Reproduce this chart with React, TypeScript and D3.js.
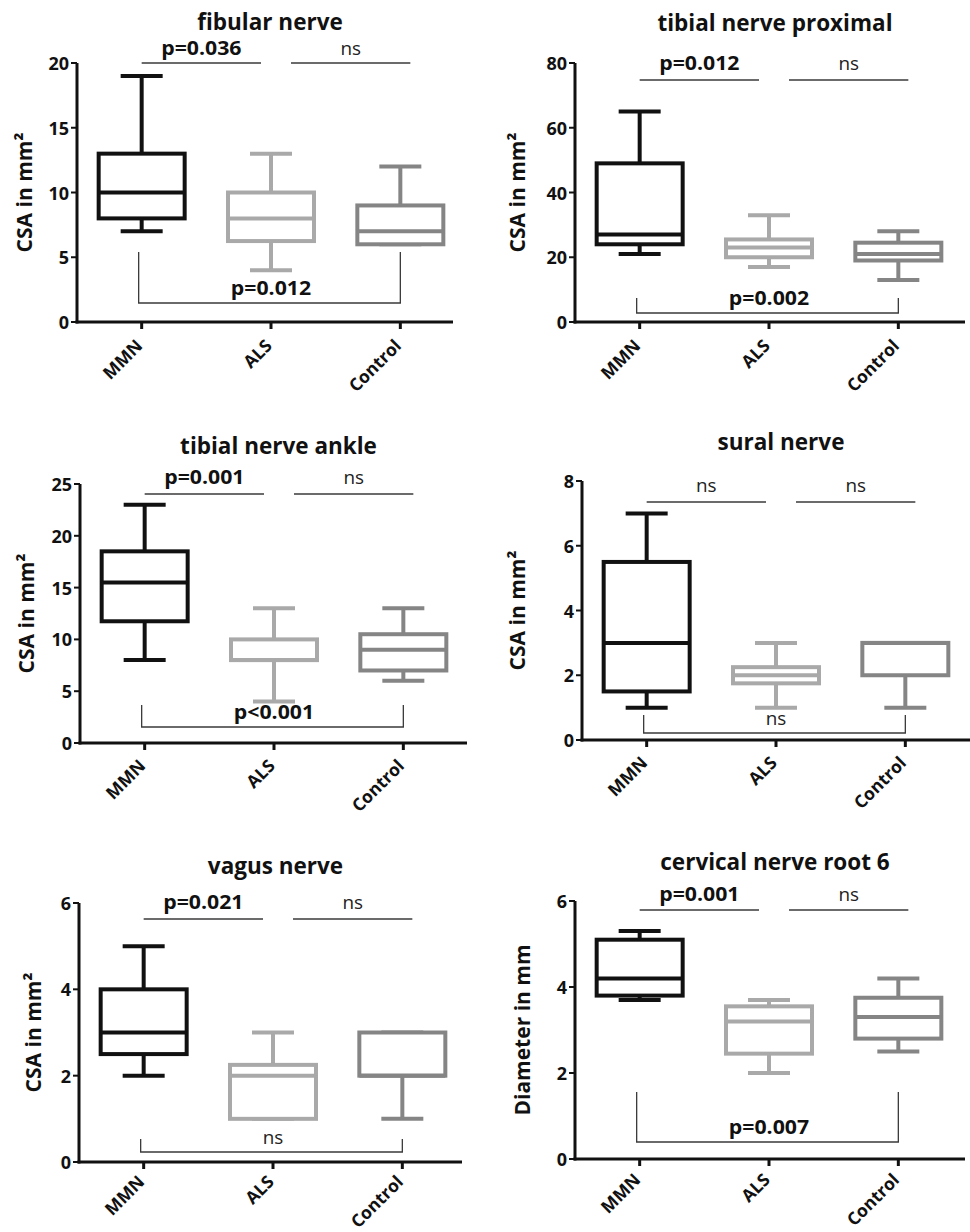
import React from "react";
import * as d3 from "d3";

const groups = ["MMN", "ALS", "Control"];
const groupColors = ["#111111", "#a9a9a9", "#858585"];

// five-number summaries: [min, q1, median, q3, max] per group
const fibular = [[7, 8, 10, 13, 19], [4, 6.25, 8, 10, 13], [6, 6, 7, 9, 12]];
const tibialProx = [[21, 24, 27, 49, 65], [17, 20, 23, 25.5, 33], [13, 19, 21, 24.5, 28]];
const tibialAnkle = [[8, 11.75, 15.5, 18.5, 23], [4, 8, 8, 10, 13], [6, 7, 9, 10.5, 13]];
const sural = [[1, 1.5, 3, 5.5, 7], [1, 1.75, 2, 2.25, 3], [1, 2, 3, 3, 3]];
const vagus = [[2, 2.5, 3, 4, 5], [1, 1, 2, 2.25, 3], [1, 2, 2, 3, 3]];
const cervical = [[3.7, 3.8, 4.2, 5.1, 5.3], [2, 2.45, 3.2, 3.55, 3.7], [2.5, 2.8, 3.3, 3.75, 4.2]];

const fibularTicks = [0, 5, 10, 15, 20];
const tibialProxTicks = [0, 20, 40, 60, 80];
const tibialAnkleTicks = [0, 5, 10, 15, 20, 25];
const suralTicks = [0, 2, 4, 6, 8];
const vagusTicks = [0, 2, 4, 6];
const cervicalTicks = [0, 2, 4, 6];

// p labels: [MMN vs ALS, ALS vs Control, MMN vs Control]
const fibularP = ["p=0.036", "ns", "p=0.012"];
const tibialProxP = ["p=0.012", "ns", "p=0.002"];
const tibialAnkleP = ["p=0.001", "ns", "p<0.001"];
const suralP = ["ns", "ns", "ns"];
const vagusP = ["p=0.021", "ns", "ns"];
const cervicalP = ["p=0.001", "ns", "p=0.007"];

const titles = ["fibular nerve", "tibial nerve proximal", "tibial nerve ankle", "sural nerve", "vagus nerve", "cervical nerve root 6"];
const yLabels = ["CSA in mm²", "CSA in mm²", "CSA in mm²", "CSA in mm²", "CSA in mm²", "Diameter in mm"];

const panels = [
  { title: titles[0], yLabel: yLabels[0], data: fibular, ticks: fibularTicks, p: fibularP,
    x0: 77, xEnd: 453, yTop: 63, yBot: 322, titleY: 30, labelX: 26, topLine: 63, pGap: 8, low: [252, 303], xlab: 25 },
  { title: titles[1], yLabel: yLabels[1], data: tibialProx, ticks: tibialProxTicks, p: tibialProxP,
    x0: 575, xEnd: 965, yTop: 63, yBot: 322, titleY: 31, labelX: 519, topLine: 80, pGap: 10, low: [298, 313], xlab: 25 },
  { title: titles[2], yLabel: yLabels[2], data: tibialAnkle, ticks: tibialAnkleTicks, p: tibialAnkleP,
    x0: 80, xEnd: 467, yTop: 484, yBot: 743, titleY: 454, labelX: 28, topLine: 494, pGap: 10, low: [705, 727], xlab: 24 },
  { title: titles[3], yLabel: yLabels[3], data: sural, ticks: suralTicks, p: suralP,
    x0: 582, xEnd: 970, yTop: 481, yBot: 740, titleY: 450, labelX: 519, topLine: 502, pGap: 10, low: [715, 733], xlab: 24 },
  { title: titles[4], yLabel: yLabels[4], data: vagus, ticks: vagusTicks, p: vagusP,
    x0: 79, xEnd: 462, yTop: 903, yBot: 1162, titleY: 874, labelX: 35, topLine: 919, pGap: 10, low: [1139, 1152], xlab: 21 },
  { title: titles[5], yLabel: yLabels[5], data: cervical, ticks: cervicalTicks, p: cervicalP,
    x0: 575, xEnd: 965, yTop: 901, yBot: 1159, titleY: 870, labelX: 524, topLine: 910, pGap: 9, low: [1092, 1142], xlab: 22 },
];

const font = "'Open Sans', 'DejaVu Sans', sans-serif";
const lineCol = "#3a3a3a";

function Panel({ cfg }: { cfg: any }) {
  const x = d3.scaleBand().domain(groups).range([cfg.x0, cfg.x0 + 388]);
  const cx = (g: string) => (x(g) as number) + x.bandwidth() / 2;
  const y = d3.scaleLinear().domain([0, d3.max(cfg.ticks) as number]).range([cfg.yBot, cfg.yTop]);
  const boxW = 86;
  const capW = 42;
  const xM = cx("MMN"), xA = cx("ALS"), xC = cx("Control");
  const midX = (xM + xC) / 2;
  const isNs = (s: string) => s === "ns";
  const pText = (s: string, px: number, py: number) => (
    <text transform={`translate(${px},${py}) scale(${isNs(s) ? 1.05 : 1.12},1)`} textAnchor="middle" fontSize={isNs(s) ? 18 : 19} fontWeight={isNs(s) ? "normal" : "bold"} fill={isNs(s) ? "#222" : "#111"}>{s}</text>
  );
  return (
    <g>
      <text x={(cfg.x0 + cfg.xEnd) / 2 + 5} y={cfg.titleY} textAnchor="middle" fontSize={22.5} fontWeight="bold" fill="#111">{cfg.title}</text>
      <text transform={`translate(${cfg.labelX},${(cfg.yTop + cfg.yBot) / 2}) rotate(-90)`} textAnchor="middle" dominantBaseline="middle" fontSize={21} fontWeight="bold" fill="#111">{cfg.yLabel}</text>
      {/* boxes */}
      {cfg.data.map((s: number[], i: number) => {
        const c = cx(groups[i]);
        const col = groupColors[i];
        return (
          <g key={i} stroke={col} strokeWidth={4} fill="none">
            <line x1={c} x2={c} y1={y(s[4])} y2={y(s[3])} />
            <line x1={c} x2={c} y1={y(s[1])} y2={y(s[0])} />
            <line x1={c - capW / 2} x2={c + capW / 2} y1={y(s[4])} y2={y(s[4])} />
            <line x1={c - capW / 2} x2={c + capW / 2} y1={y(s[0])} y2={y(s[0])} />
            <rect x={c - boxW / 2} y={y(s[3])} width={boxW} height={Math.max(0.01, y(s[1]) - y(s[3]))} fill="#fff" />
            <line x1={c - boxW / 2} x2={c + boxW / 2} y1={y(s[2])} y2={y(s[2])} />
          </g>
        );
      })}
      {/* significance brackets */}
      <g stroke={lineCol} strokeWidth={1.3} fill="none">
        <line x1={xM} x2={xA - 10} y1={cfg.topLine} y2={cfg.topLine} />
        <line x1={xA + 20} x2={xC + 10} y1={cfg.topLine} y2={cfg.topLine} />
        <polyline points={`${xM - 3},${cfg.low[0]} ${xM - 3},${cfg.low[1]} ${xC},${cfg.low[1]} ${xC},${cfg.low[0]}`} />
      </g>
      {pText(cfg.p[0], (xM + xA - 10) / 2, cfg.topLine - cfg.pGap)}
      {pText(cfg.p[1], (xA + 20 + xC + 10) / 2, cfg.topLine - cfg.pGap)}
      {pText(cfg.p[2], midX, cfg.low[1] - 8)}
      {/* axes */}
      <g stroke="#111" strokeWidth={3} fill="none">
        <line x1={cfg.x0} x2={cfg.x0} y1={cfg.yTop} y2={cfg.yBot + 1.5} />
        <line x1={cfg.x0 - 1.5} x2={cfg.xEnd} y1={cfg.yBot} y2={cfg.yBot} />
        {cfg.ticks.map((t: number) => (
          <line key={t} x1={cfg.x0 - 6} x2={cfg.x0} y1={y(t)} y2={y(t)} strokeWidth={2} />
        ))}
        {groups.map((g) => (
          <line key={g} x1={cx(g)} x2={cx(g)} y1={cfg.yBot} y2={cfg.yBot + 7} />
        ))}
      </g>
      {cfg.ticks.map((t: number) => (
        <text key={t} x={cfg.x0 - 8} y={y(t)} textAnchor="end" dominantBaseline="central" fontSize={18} fontWeight="bold" fill="#111">{t}</text>
      ))}
      {groups.map((g) => (
        <text key={g} transform={`translate(${cx(g) + 2},${cfg.yBot + cfg.xlab}) rotate(-45)`} textAnchor="end" fontSize={17.5} fontWeight="bold" fill="#111">{g}</text>
      ))}
    </g>
  );
}

export default function App() {
  return (
    <svg width={970} height={1232} style={{ position: "absolute", left: 0, top: 0, background: "#fff" }} fontFamily={font}>
      <rect width={970} height={1232} fill="#fff" />
      {panels.map((p, i) => (
        <Panel key={i} cfg={p} />
      ))}
    </svg>
  );
}
